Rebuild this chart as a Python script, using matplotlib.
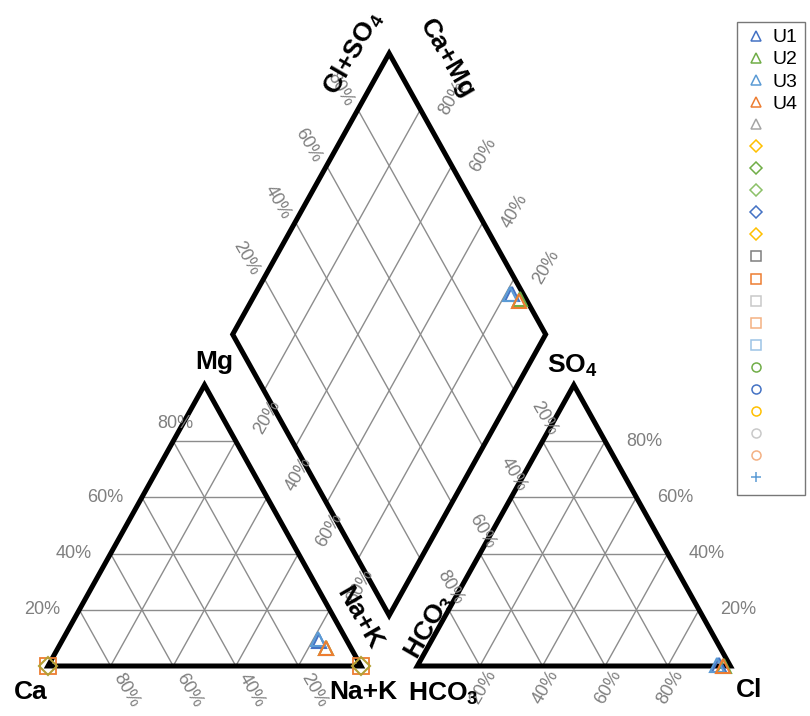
import numpy as np
import matplotlib.pyplot as plt
from matplotlib.lines import Line2D
from matplotlib.patches import Polygon

plt.rcParams['font.family'] = ['Liberation Sans', 'DejaVu Sans']
plt.rcParams['mathtext.fontset'] = 'custom'
plt.rcParams['mathtext.rm'] = 'Liberation Sans:bold'
plt.rcParams['mathtext.it'] = 'Liberation Sans:bold'
plt.rcParams['mathtext.bf'] = 'Liberation Sans:bold'

# sample compositions, % meq
samples = ['U1', 'U2', 'U3', 'U4']
ca = [9.0, 8.0, 9.0, 8.0]
mg = [9.0, 6.5, 9.5, 6.5]
na_k = [82.0, 85.5, 81.5, 85.5]
hco3 = [3.5, 2.0, 4.0, 2.5]
so4 = [0.5, 0.0, 0.5, 0.0]
cl = [96.0, 98.0, 95.5, 97.5]
sample_colors = ['#4472C4', '#70AD47', '#5B9BD5', '#ED7D31']

# empty series that end up on the cation corners
corner_ca = [100.0, 0.0]
corner_mg = [0.0, 0.0]
corner_na = [0.0, 100.0]

# legend entries (marker, colour)
legend_markers = ['^', '^', '^', '^', '^', 'D', 'D', 'D', 'D', 'D',
                  's', 's', 's', 's', 's', 'o', 'o', 'o', 'o', 'o', '+']
legend_colors = ['#4472C4', '#70AD47', '#5B9BD5', '#ED7D31', '#A5A5A5',
                 '#FFC000', '#70AD47', '#8CC168', '#4472C4', '#FFC000',
                 '#7F7F7F', '#ED7D31', '#C9C9C9', '#F4B183', '#9DC3E6',
                 '#70AD47', '#4472C4', '#FFC000', '#C9C9C9', '#F4B183', '#5B9BD5']
legend_labels = samples + [''] * 17

ticks = [20, 40, 60, 80]

g = 0.18
h = np.sqrt(3) / 2


def cation_xy(c, m, n):
    tot = c + m + n
    return (n + m / 2) / tot, m / tot * h


def anion_xy(a, s, c):
    tot = a + s + c
    return 1 + g + (c + s / 2) / tot, s / tot * h


def diamond_xy(cat, an):
    x1, y1 = cation_xy(*cat)
    x2, y2 = anion_xy(*an)
    t = ((x2 - x1) * 2 + (y2 - y1) / h) / 2
    return x1 + 0.5 * t, y1 + h * t


fig = plt.figure(figsize=(8.1, 7.16), dpi=100)
ax = fig.add_axes([0, 0, 1, 1])
ax.set_xlim(-48 / 313, (810 - 48) / 313)
ax.set_ylim((666 - 716) / 324.5, 666 / 324.5)
ax.axis('off')

grid_kw = dict(color='#8C8C8C', lw=1.0, zorder=1)

# grids
for p in np.array(ticks) / 100:
    q = 1 - p
    for a, b in [((q, p, 0), (0, p, q)), ((p, q, 0), (p, 0, q)), ((q, 0, p), (0, q, p))]:
        pa, pb = cation_xy(*a), anion_xy(*a)
        qa, qb = cation_xy(*b), anion_xy(*b)
        ax.plot([pa[0], qa[0]], [pa[1], qa[1]], **grid_kw)
        ax.plot([pb[0], qb[0]], [pb[1], qb[1]], **grid_kw)
    # diamond: constant Cl+SO4 and constant Ca+Mg
    d1 = diamond_xy((1, 0, 0), (q, 0, p))
    d2 = diamond_xy((0, 0, 1), (q, 0, p))
    ax.plot([d1[0], d2[0]], [d1[1], d2[1]], **grid_kw)
    d1 = diamond_xy((p, 0, q), (1, 0, 0))
    d2 = diamond_xy((p, 0, q), (0, 0, 1))
    ax.plot([d1[0], d2[0]], [d1[1], d2[1]], **grid_kw)

# outlines
edge_kw = dict(closed=True, fill=False, ec='black', lw=3.6, joinstyle='miter', zorder=2)
corners = [(1, 0, 0), (0, 0, 1), (0, 1, 0)]
ax.add_patch(Polygon([cation_xy(*c) for c in corners], **edge_kw))
ax.add_patch(Polygon([anion_xy(*c) for c in corners], **edge_kw))
ax.add_patch(Polygon([diamond_xy((0, 0, 1), (1, 0, 0)), diamond_xy((1, 0, 0), (1, 0, 0)),
                      diamond_xy((1, 0, 0), (0, 0, 1)), diamond_xy((0, 0, 1), (0, 0, 1))],
                     **edge_kw))

# tick labels
tk = dict(color='#7F7F7F', fontsize=13, ha='center', va='center',
          textcoords='offset pixels', zorder=3)
for v in ticks:
    p = v / 100
    q = 1 - p
    s = f'{v}%'
    off = (2, 18) if v == 80 else (-37, 0)
    ax.annotate(s, cation_xy(q, p, 0), xytext=off, **tk)
    ax.annotate(s, cation_xy(p, 0, q), xytext=(16, -24), rotation=-60, **tk)
    ax.annotate(s, anion_xy(q, 0, p), xytext=(3, -21), rotation=60, **tk)
    ax.annotate(s, anion_xy(0, p, q), xytext=(39, 0), **tk)
    ax.annotate(s, diamond_xy((q, 0, p), (1, 0, 0)), xytext=(3, -27), rotation=60, **tk)
    ax.annotate(s, diamond_xy((0, 0, 1), (p, 0, q)), xytext=(30, -28), rotation=-60, **tk)
    ax.annotate(s, diamond_xy((p, 0, q), (0, 0, 1)), xytext=(32, 11), rotation=60, **tk)
    ax.annotate(s, diamond_xy((1, 0, 0), (q, 0, p)), xytext=(-18, 20), rotation=-60, **tk)

# axis titles
tt = dict(color='black', fontsize=19, fontweight='bold', ha='center', va='center',
          textcoords='offset pixels', zorder=3)
ax.annotate('Ca', cation_xy(1, 0, 0), xytext=(-17, -26), **tt)
ax.annotate('Na+K', cation_xy(0, 0, 1), xytext=(2, -26), **tt)
ax.annotate('Mg', cation_xy(0, 1, 0), xytext=(10, 23), **tt)
ax.annotate('HCO$_3$', anion_xy(1, 0, 0), xytext=(26, -28), **tt)
ax.annotate('Cl', anion_xy(0, 0, 1), xytext=(19, -24), **tt)
ax.annotate('SO$_4$', anion_xy(0, 1, 0), xytext=(-2, 19), **tt)
top = diamond_xy((1, 0, 0), (0, 0, 1))
bottom = diamond_xy((0, 0, 1), (1, 0, 0))
ax.annotate('Cl+SO$_4$', top, xytext=(-36, 0), rotation=60, **tt)
ax.annotate('Ca+Mg', top, xytext=(58, -5), rotation=-60, **tt)
ax.annotate('Na+K', bottom, xytext=(-30, -3), rotation=-60, **tt)
ax.annotate('HCO$_3$', bottom, xytext=(40, -12), rotation=60, **tt)

# corner series
for c, m, n in zip(corner_ca, corner_mg, corner_na):
    x, y = cation_xy(c, m, n)
    ax.plot(x, y, marker='s', ms=11, mfc='none', mec='#ED7D31', mew=1.3, ls='none', zorder=5)
    ax.plot(x, y, marker='D', ms=9, mfc='none', mec='#B4A035', mew=1.5, ls='none', zorder=5)

# samples
for i in range(len(samples)):
    cat = (ca[i], mg[i], na_k[i])
    an = (hco3[i], so4[i], cl[i])
    for x, y in [cation_xy(*cat), anion_xy(*an), diamond_xy(cat, an)]:
        ax.plot(x, y, marker='^', ms=10, mfc='none', mec=sample_colors[i], mew=1.5,
                ls='none', zorder=5)

handles = [Line2D([], [], marker=m, color=c, mfc='none', mec=c, ls='none', ms=6.5, mew=1.1)
           for m, c in zip(legend_markers, legend_colors)]
leg = fig.legend(handles, legend_labels, loc='upper left',
                 bbox_to_anchor=(737 / 810, 1 - 22 / 716), fontsize=14,
                 frameon=True, fancybox=False, edgecolor='#555555',
                 labelspacing=0.23, handlelength=1.3, handletextpad=0.2,
                 borderpad=0.35, borderaxespad=0)
leg.get_frame().set_linewidth(1.0)

fig.savefig('out.png', dpi=100)
